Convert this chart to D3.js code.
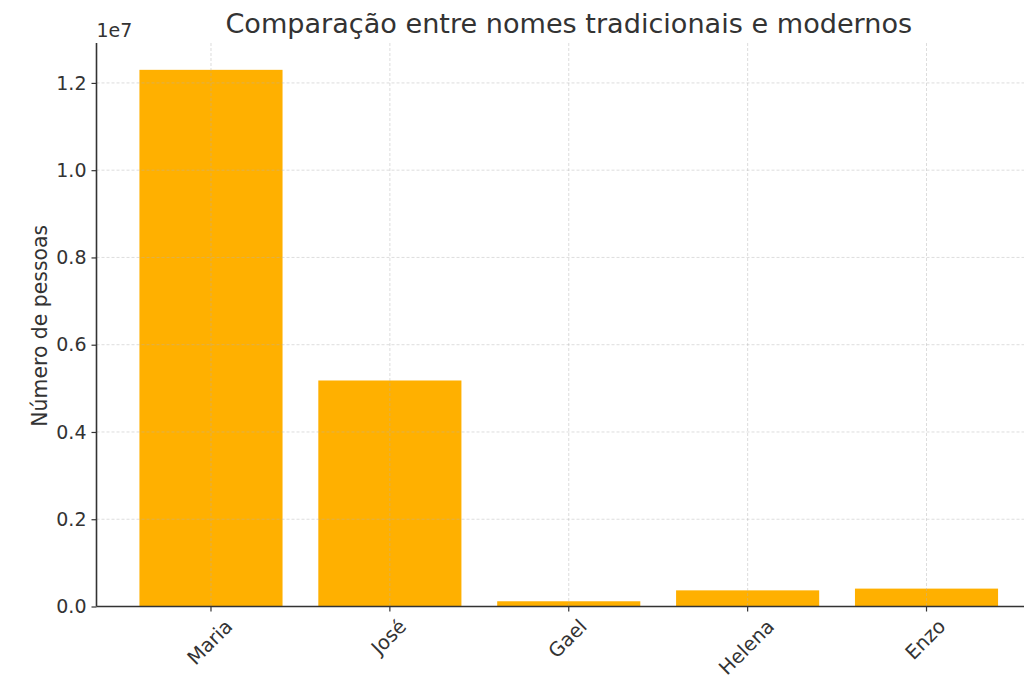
<!DOCTYPE html>
<html lang="pt">
<head>
    <meta charset="UTF-8">
    <title>Comparação entre nomes</title>
    <style>
        body { margin: 0; background: #fff; overflow: hidden; }
        text { font-family: "DejaVu Sans", sans-serif; fill: #333; }
    </style>
</head>
<body>
    <script src="https://d3js.org/d3.v7.min.js"></script>
    <script>
        // Data
        let names = ["Maria", "José", "Gael", "Helena", "Enzo"];
        let people = [12300000, 5180000, 120000, 370000, 410000];
        let yTicks = [0, 0.2e7, 0.4e7, 0.6e7, 0.8e7, 1.0e7, 1.2e7];

        let svgWidth = 1024;
        let svgHeight = 683;

        // axes box (right side runs past the window, as in the original)
        let margin = { top: 43, left: 96.5, bottom: 606.5, right: 1041 };

        let svg = d3.select("body")
            .append("svg")
            .attr("width", svgWidth)
            .attr("height", svgHeight);

        // Category scale: bars 0.8 wide, 0.05 margin on each side like matplotlib
        let n = names.length;
        let lo = -0.4 - 0.05 * (n - 0.2);
        let hi = (n - 1) + 0.4 + 0.05 * (n - 0.2);
        let xLin = d3.scaleLinear().domain([lo, hi]).range([margin.left, margin.right]);
        let xScale = i => xLin(i);
        let barW = xLin(0.8) - xLin(0);

        let yScale = d3.scaleLinear()
            .domain([0, d3.max(people) * 1.05])
            .range([margin.bottom, margin.top]);

        // bars
        svg.selectAll(".bar")
            .data(people)
            .enter()
            .append("rect")
            .attr("class", "bar")
            .attr("x", (d, i) => xScale(i) - barW / 2)
            .attr("y", d => yScale(d))
            .attr("width", barW)
            .attr("height", d => yScale(0) - yScale(d))
            .attr("fill", "#ffb000");

        // grid on top of bars
        let grid = svg.append("g")
            .attr("stroke", "#b0b0b0")
            .attr("stroke-opacity", 0.55)
            .attr("stroke-width", 0.8)
            .attr("stroke-dasharray", "3,2");
        grid.selectAll(".hgrid")
            .data(yTicks)
            .enter()
            .append("line")
            .attr("x1", margin.left).attr("x2", margin.right)
            .attr("y1", d => yScale(d)).attr("y2", d => yScale(d));
        grid.selectAll(".vgrid")
            .data(names)
            .enter()
            .append("line")
            .attr("x1", (d, i) => xScale(i)).attr("x2", (d, i) => xScale(i))
            .attr("y1", margin.top).attr("y2", margin.bottom);

        // y axis
        let yAxis = d3.axisLeft(yScale)
            .tickValues(yTicks)
            .tickSize(5)
            .tickPadding(5)
            .tickFormat(d => (d / 1e7).toFixed(1));
        let yg = svg.append("g")
            .attr("transform", `translate(${margin.left}, 0)`)
            .call(yAxis);
        yg.select(".domain").attr("stroke", "#333").attr("stroke-width", 1.6).attr("d", `M0,${margin.top}V${margin.bottom}`);
        yg.selectAll(".tick line").attr("stroke", "#333").attr("stroke-width", 1.2);
        yg.selectAll(".tick text")
            .style("font-size", "19px")
            .style("font-family", "DejaVu Sans, sans-serif")
            .attr("fill", "#333");

        // x axis line and ticks
        svg.append("line")
            .attr("x1", margin.left).attr("x2", margin.right)
            .attr("y1", margin.bottom).attr("y2", margin.bottom)
            .attr("stroke", "#333").attr("stroke-width", 1.6);
        svg.selectAll(".xtick")
            .data(names)
            .enter()
            .append("line")
            .attr("x1", (d, i) => xScale(i)).attr("x2", (d, i) => xScale(i))
            .attr("y1", margin.bottom).attr("y2", margin.bottom + 5)
            .attr("stroke", "#333").attr("stroke-width", 1.2);

        // rotated x labels, bbox top-centred under each tick
        let fs = 19.5;
        svg.selectAll(".xlabel")
            .data(names)
            .enter()
            .append("text")
            .attr("class", "xlabel")
            .style("font-size", fs + "px")
            .attr("text-anchor", "middle")
            .attr("dominant-baseline", "central")
            .text(d => d)
            .each(function(d, i) {
                let w = this.getComputedTextLength();
                let half = (w + fs * 1.1) * Math.SQRT1_2 / 2;
                let cx = xScale(i) - 1;
                let cy = margin.bottom + 9 + half;
                d3.select(this).attr("transform", `translate(${cx},${cy}) rotate(-45)`);
            });

        // offset text
        svg.append("text")
            .attr("x", margin.left)
            .attr("y", 37)
            .style("font-size", "19px")
            .text("1e7");

        // y label
        svg.append("text")
            .attr("transform", `translate(47, ${(margin.top + margin.bottom) / 2 + 1}) rotate(-90)`)
            .attr("text-anchor", "middle")
            .style("font-size", "20.4px")
            .text("Número de pessoas");

        // title
        svg.append("text")
            .attr("x", (margin.left + margin.right) / 2)
            .attr("y", 33)
            .attr("text-anchor", "middle")
            .style("font-size", "27.1px")
            .text("Comparação entre nomes tradicionais e modernos");
    </script>
</body>
</html>
